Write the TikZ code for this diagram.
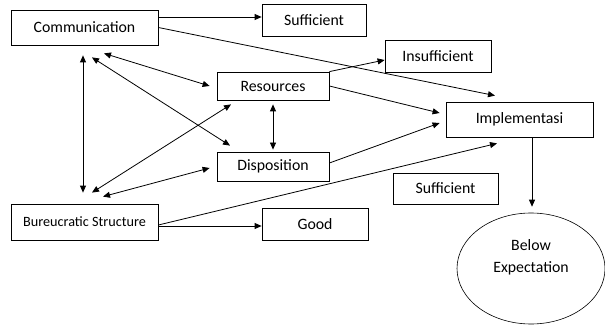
\documentclass[tikz,border=0pt]{standalone}
\usepackage{fontspec}
\setmainfont{Carlito}
\usetikzlibrary{arrows.meta,shapes.geometric}
\begin{document}
\begin{tikzpicture}[x=1pt,y=-1pt,
  box/.style={draw,line width=0.8pt,inner sep=0pt,align=center,font=\fontsize{15.8}{18}\selectfont},
  conn/.style={line width=0.8pt,-{Triangle[length=7pt,width=6pt]}},
  dconn/.style={line width=0.8pt,{Triangle[length=7pt,width=6pt]}-{Triangle[length=7pt,width=6pt]}}]
\useasboundingbox (0,0) rectangle (605,326);
\node[box,minimum width=147pt,minimum height=35pt] (comm) at (84.5,27.5) {Communication};
\node[box,minimum width=104pt,minimum height=32pt] (suff1) at (314,20.5) {Sufficient};
\node[box,minimum width=106pt,minimum height=32pt] (insuff) at (438,56) {Insufficient};
\node[box,minimum width=112pt,minimum height=28pt] (res) at (273,86) {Resources};
\node[box,minimum width=147pt,minimum height=35pt] (impl) at (519.5,119.5) {Implementasi};
\node[box,minimum width=112pt,minimum height=29pt] (disp) at (273,166.5) {Disposition};
\node[box,minimum width=147pt,minimum height=36pt,font=\fontsize{14.2}{17}\selectfont] (bur) at (84.5,222) {Bureucratic Structure};
\node[box,minimum width=106pt,minimum height=32pt] (good) at (315,224) {Good};
\node[box,minimum width=105pt,minimum height=31pt] (suff2) at (445.5,188.5) {Sufficient};
\node[box,ellipse,line width=0.6pt,minimum width=148pt,minimum height=111pt,text depth=24pt] (below) at (531,268.5) {Below\\[4pt]Expectation};
% connectors
\draw[conn] ([yshift=10.5pt]comm.east) -- ([yshift=3.5pt]suff1.west);
\draw[conn] (comm.east) -- ([xshift=-24.5pt,yshift=6pt]impl.north);
\draw[dconn] ([xshift=19.5pt,yshift=-8pt]comm.south) -- ([xshift=-7pt]res.west);
\draw[dconn] ([xshift=-1.5pt,yshift=-10pt]comm.south) -- ([xshift=-1.5pt,yshift=11pt]bur.north);
\draw[dconn] ([xshift=7.5pt,yshift=-12pt]comm.south) -- ([xshift=-43pt,yshift=6pt]disp.north);
\draw[dconn] ([xshift=7.5pt,yshift=11pt]bur.north) -- ([xshift=-42pt,yshift=-4pt]res.south);
\draw[dconn] ([xshift=18.5pt,yshift=7pt]bur.north) -- ([xshift=-7pt,yshift=-1.5pt]disp.west);
\draw[dconn] ([yshift=-4pt]res.south) -- ([yshift=2pt]disp.north);
\draw[conn] (res.north east) -- ([yshift=-4pt]insuff.west);
\draw[conn] (res.east) -- ([xshift=-6pt,yshift=6.5pt]impl.west);
\draw[conn] ([yshift=3.5pt]disp.east) -- ([xshift=-6pt,yshift=-3.5pt]impl.west);
\draw[conn] ([yshift=-3pt]bur.east) -- ([xshift=-22.5pt,yshift=-6pt]impl.south);
\draw[conn] ([yshift=-4pt]bur.east) -- ([yshift=-2pt]good.west);
\draw[conn] ([xshift=12.5pt]impl.south) -- ([xshift=1pt,yshift=6pt]below.north);
\end{tikzpicture}
\end{document}
